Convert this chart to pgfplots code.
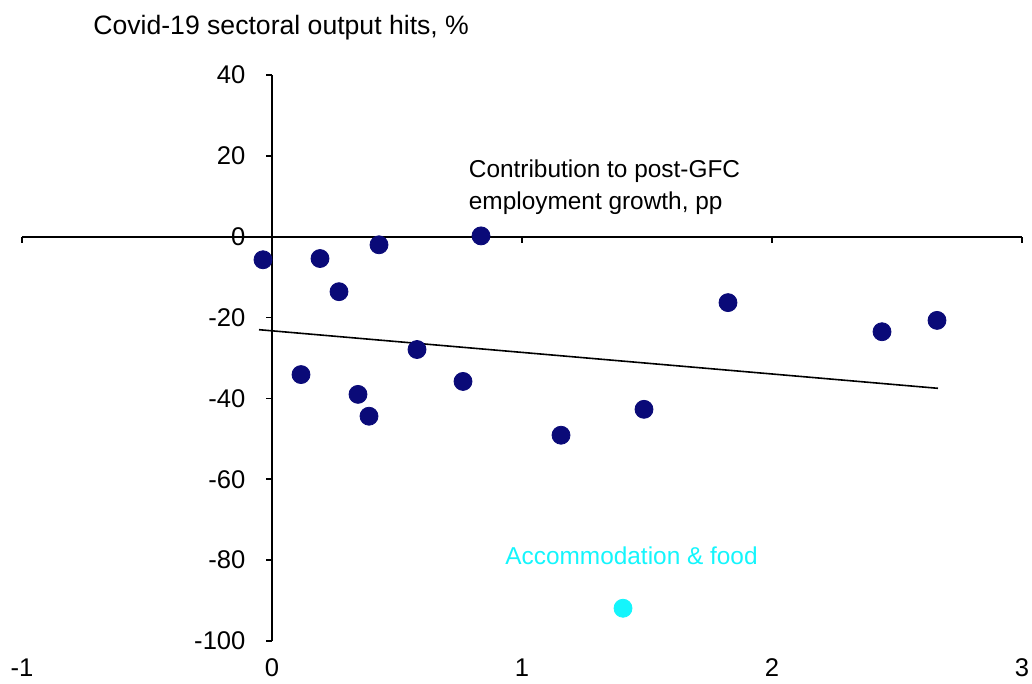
\documentclass[border=0pt]{standalone}
\usepackage{pgfplots}
\pgfplotsset{compat=1.18}
\usepackage{fontspec}
\setmainfont{Liberation Sans}
\definecolor{navy}{RGB}{10,10,120}
\definecolor{cyanpt}{RGB}{20,245,252}
\begin{document}
\fontsize{12.2}{16.3}\selectfont
\begin{tikzpicture}
\path[use as bounding box] (-11pt,-21.5pt) rectangle (505pt,320.5pt);
\begin{axis}[
  scale only axis, width=500pt, height=283pt,
  xmin=-1, xmax=3, ymin=-100, ymax=40,
  axis lines=middle,
  axis line style={line width=0.8pt, -},
  hide obscured x ticks=false, hide obscured y ticks=false,
  xtick={-1,0,1,2,3}, ytick={-100,-80,-60,-40,-20,0,20,40},
  tick align=outside, major tick length=3pt,
  tick style={line width=0.8pt, black},
  xticklabel style={anchor=center, yshift=-212.5pt},
  yticklabel style={anchor=east, xshift=-6pt},
  ticklabel style={font=\fontsize{12.8}{15}\selectfont},
  /pgf/number format/assume math mode=true,
  clip=false,
]
\addplot[black, line width=0.8pt] coordinates {(-0.052,-23.0) (2.664,-37.5)};
\addplot[only marks, mark=*, mark size=4.5pt, mark options={fill=navy, draw=navy}] coordinates {
(-0.036,-5.7) (0.192,-5.4) (0.268,-13.6) (0.428,-2.0) (0.836,0.2)
(0.116,-34.1) (0.344,-39.0) (0.388,-44.4) (0.58,-27.9) (0.764,-35.8)
(1.156,-49.1) (1.488,-42.7) (1.824,-16.3) (2.44,-23.5) (2.66,-20.7)
};
\addplot[only marks, mark=*, mark size=4.5pt, mark options={fill=cyanpt, draw=cyanpt}] coordinates {(1.404,-91.9)};
\node[anchor=west, inner sep=0pt, font=\fontsize{13.3}{16}\selectfont] at (axis cs:-0.716,51.6) {Covid-19 sectoral output hits, \%};
\node[anchor=north west, inner sep=0pt, align=left] at (axis cs:0.786,19.2) {Contribution to post-GFC\\employment growth, pp};
\node[anchor=west, inner sep=0pt, text=cyanpt] at (axis cs:0.932,-79.0) {Accommodation \& food};
\end{axis}
\end{tikzpicture}
\end{document}
